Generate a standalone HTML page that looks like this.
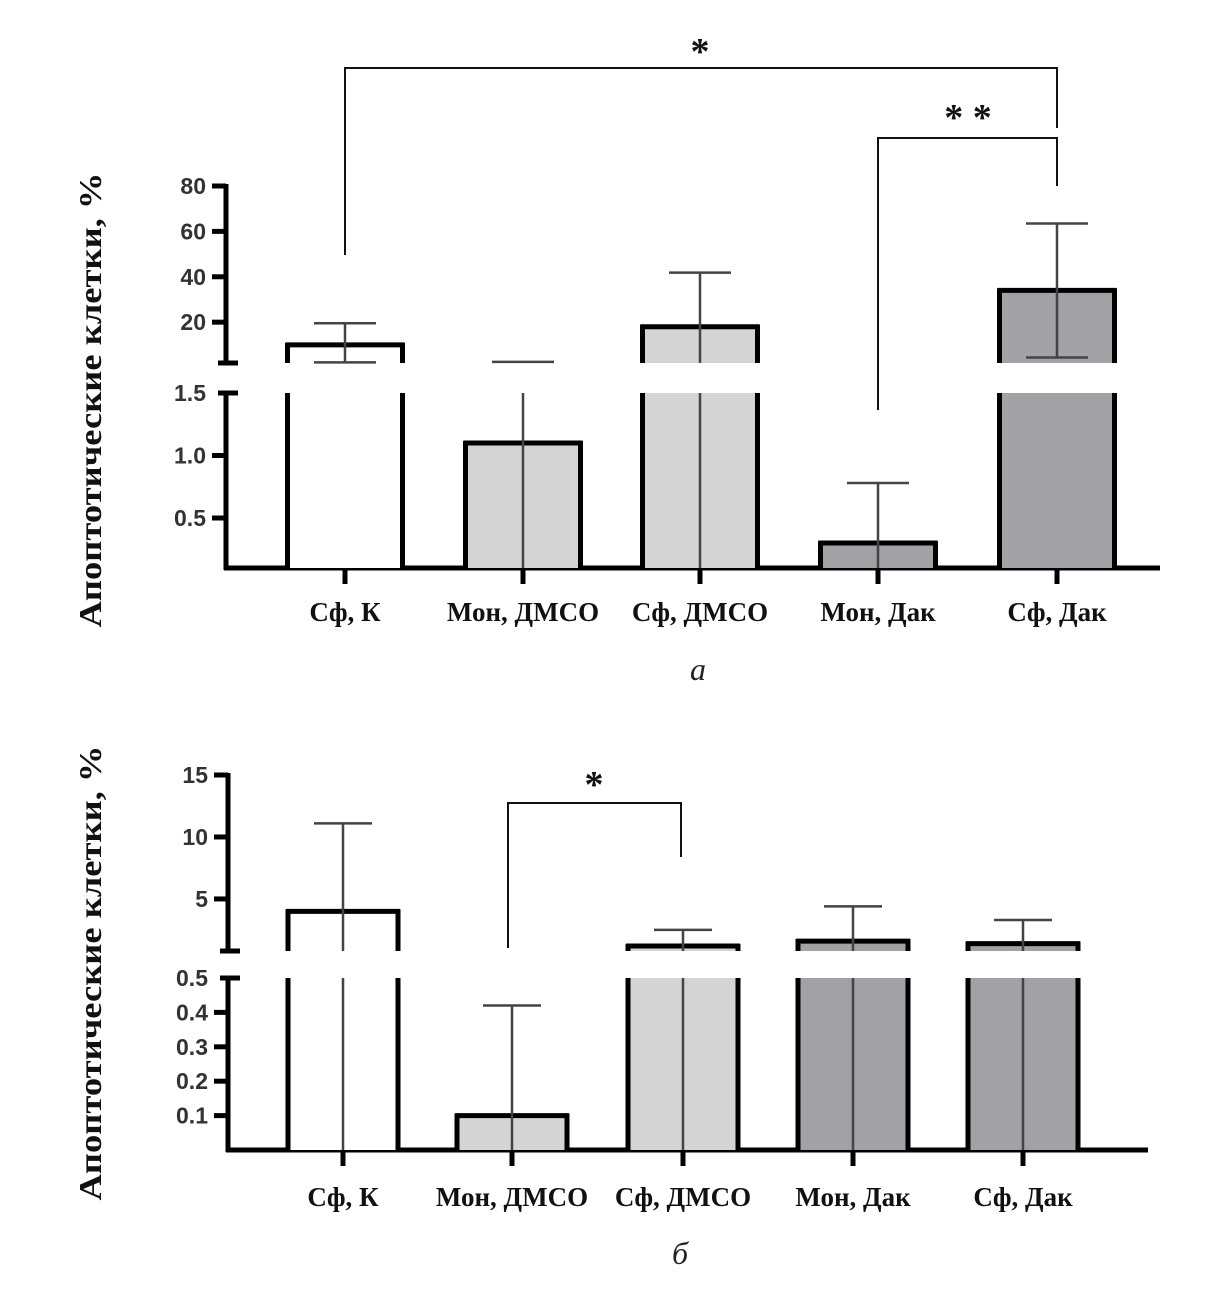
<!DOCTYPE html>
<html><head><meta charset="utf-8"><style>
html,body{margin:0;padding:0;background:#fff;}
svg{display:block;}
text{font-family:"Liberation Serif","DejaVu Serif",serif;}
.tk{font-family:"Liberation Sans","DejaVu Sans",sans-serif;font-size:23px;font-weight:bold;fill:#333;}
.cat{font-weight:bold;font-size:27px;fill:#111;}
</style></head><body>
<svg id="chart" width="1224" height="1293" viewBox="0 0 1224 1293" xmlns="http://www.w3.org/2000/svg"></svg>
<script>
// ---- data: panel a ----
const categoriesA = ["Сф, К", "Мон, ДМСО", "Сф, ДМСО", "Мон, Дак", "Сф, Дак"];
const meansA = [10, 1.1, 18, 0.3, 34];
const errUpA = [19.5, 2.5, 41.8, 0.78, 63.5];
const errLowA = [2.3, null, null, null, 4.4];
const upperTicksA = [20, 40, 60, 80];
const lowerTicksA = [0.5, 1.0, 1.5];
const lowerTickLabelsA = ["0.5", "1.0", "1.5"];
// ---- data: panel б ----
const categoriesB = ["Сф, К", "Мон, ДМСО", "Сф, ДМСО", "Мон, Дак", "Сф, Дак"];
const meansB = [4.0, 0.1, 1.2, 1.6, 1.4];
const errUpB = [11.1, 0.42, 2.5, 4.4, 3.3];
const errLowB = [null, null, null, null, null];
const upperTicksB = [5, 10, 15];
const lowerTicksB = [0.1, 0.2, 0.3, 0.4, 0.5];
const lowerTickLabelsB = ["0.1", "0.2", "0.3", "0.4", "0.5"];
const fills = ["#ffffff", "#d4d4d4", "#d4d4d4", "#a2a2a6", "#a2a2a6"];

const NS = "http://www.w3.org/2000/svg";
const svg = document.getElementById("chart");
function mk(tag, attrs, parent, name, inter) {
  const e = document.createElementNS(NS, tag);
  for (const k in attrs) e.setAttribute(k, attrs[k]);
  
  
  (parent || svg).appendChild(e);
  return e;
}
function line(x1, y1, x2, y2, w, c, name, p) {
  return mk("line", {x1, y1, x2, y2, stroke: c, "stroke-width": w}, p, name, false);
}

function panel(cfg) {
  const g = mk("g", {}, svg, cfg.name, false);
  const up = v => cfg.uY1 - (v - cfg.uD0) / (cfg.uD1 - cfg.uD0) * (cfg.uY1 - cfg.uY0);
  const lo = v => cfg.lY1 - (v - cfg.lD0) / (cfg.lD1 - cfg.lD0) * (cfg.lY1 - cfg.lY0);
  const ax = cfg.axisX;
  line(ax, cfg.uY0 - 2, ax, cfg.uY1, 5, "#000", "y-axis-upper", g);
  line(ax, cfg.lY0, ax, cfg.lY1 + 2, 5, "#000", "y-axis-lower", g);
  line(ax - 8, cfg.uY1, ax + 12, cfg.uY1, 5, "#000", "axis-break-top", g);
  line(ax - 8, cfg.lY0, ax + 12, cfg.lY0, 5, "#000", "axis-break-bottom", g);
  line(ax - 2, cfg.lY1, cfg.axisEnd, cfg.lY1, 5, "#000", "x-axis", g);
  cfg.uTicks.forEach(t => {
    const y = up(t);
    line(ax - 14, y, ax, y, 5, "#000", "y-tick", g);
    const tx = mk("text", {x: ax - 20, y: y + 8, "text-anchor": "end", class: "tk"}, g, "y-tick-label", false);
    tx.textContent = String(t);
  });
  cfg.lTicks.forEach((t, i) => {
    const y = lo(t);
    if (Math.abs(y - cfg.lY0) > 2) line(ax - 14, y, ax, y, 5, "#000", "y-tick", g);
    const tx = mk("text", {x: ax - 20, y: y + 8, "text-anchor": "end", class: "tk"}, g, "y-tick-label", false);
    tx.textContent = cfg.lLabels[i];
  });
  cfg.cats.forEach((c, i) => {
    const cx = cfg.centers[i], w = cfg.barW, x0 = cx - w / 2, x1 = cx + w / 2;
    const m = cfg.means[i];
    const bg = mk("g", {}, g, "bar-" + (i + 1), false);
    const lt = m >= cfg.lD1 ? cfg.lY0 : lo(m);
    mk("rect", {x: x0, y: lt, width: w, height: cfg.lY1 - lt, fill: fills[i]}, bg, "bar-fill-lower", false);
    line(x0, lt - (m < cfg.lD1 ? 2 : 0), x0, cfg.lY1, 5, "#000", "bar-edge", bg);
    line(x1, lt - (m < cfg.lD1 ? 2 : 0), x1, cfg.lY1, 5, "#000", "bar-edge", bg);
    if (m < cfg.lD1) line(x0 - 2, lt, x1 + 2, lt, 5, "#000", "bar-top", bg);
    if (m > cfg.uD0) {
      const ut = up(m);
      mk("rect", {x: x0, y: ut, width: w, height: cfg.uY1 - ut, fill: fills[i]}, bg, "bar-fill-upper", false);
      line(x0, ut - 2, x0, cfg.uY1, 5, "#000", "bar-edge", bg);
      line(x1, ut - 2, x1, cfg.uY1, 5, "#000", "bar-edge", bg);
      line(x0 - 2, ut, x1 + 2, ut, 5, "#000", "bar-top", bg);
    }
    const eu = cfg.errUp[i], el = cfg.errLow[i];
    const ec = "#444", cw = cfg.capW / 2;
    const yTopE = eu > cfg.uD0 ? up(eu) : lo(eu);
    if (eu > cfg.uD0) {
      const bottomU = (el != null && el > cfg.uD0) ? up(el) : cfg.uY1;
      line(cx, yTopE, cx, bottomU, 2.5, ec, "error-line", bg);
      if (el != null && el > cfg.uD0) line(cx - cw, up(el), cx + cw, up(el), 2.5, ec, "error-cap-low", bg);
      if (el == null || el <= cfg.uD0) line(cx, cfg.lY0, cx, cfg.lY1, 2.5, ec, "error-line", bg);
    } else {
      line(cx, yTopE, cx, cfg.lY1, 2.5, ec, "error-line", bg);
    }
    line(cx - cw, yTopE, cx + cw, yTopE, 2.5, ec, "error-cap", bg);
    line(cx, cfg.lY1, cx, cfg.lY1 + 16, 5, "#000", "x-tick", g);
    const lab = mk("text", {x: cx, y: cfg.labY, "text-anchor": "middle", class: "cat"}, g, "x-label", false);
    lab.textContent = c;
  });
  const yt = mk("text", {x: 0, y: 0, transform: `translate(${cfg.titleX},${cfg.titleY}) rotate(-90)`, "text-anchor": "middle", "font-weight": "bold", "font-size": "32", textLength: cfg.titleLen, lengthAdjust: "spacingAndGlyphs", fill: "#111"}, g, "y-axis-title", false);
  yt.textContent = "Апоптотические клетки, %";
  cfg.brackets.forEach(b => {
    mk("path", {d: `M${b.x1},${b.y1} V${b.top} H${b.x2} V${b.y2}`, fill: "none", stroke: "#111", "stroke-width": 2}, g, "significance-bracket", false);
    const s = mk("text", {x: b.sx, y: b.sy, "text-anchor": "middle", "font-size": "38", "font-weight": "bold", fill: "#111"}, g, "significance-stars", false);
    s.textContent = b.stars;
  });
  const pl = mk("text", {x: cfg.letterX, y: cfg.letterY, "text-anchor": "middle", "font-style": "italic", "font-size": "32", fill: "#222"}, g, "panel-label", false);
  pl.textContent = cfg.letter;
}

panel({
  name: "panel-a", cats: categoriesA, means: meansA, errUp: errUpA, errLow: errLowA,
  uTicks: upperTicksA, lTicks: lowerTicksA, lLabels: lowerTickLabelsA,
  uD0: 2, uD1: 80, uY0: 186, uY1: 363, lD0: 0.1, lD1: 1.5, lY0: 393, lY1: 568,
  axisX: 226, axisEnd: 1160, centers: [345, 523, 700, 878, 1057], barW: 115, capW: 62,
  labY: 621, titleX: 101, titleY: 400, titleLen: 455,
  brackets: [
    {x1: 345, y1: 255, x2: 1057, y2: 128, top: 68, sx: 700, sy: 64, stars: "*"},
    {x1: 878, y1: 410, x2: 1057, y2: 186, top: 138, sx: 968, sy: 130, stars: "* *"}
  ],
  letter: "а", letterX: 698, letterY: 680
});
panel({
  name: "panel-b", cats: categoriesB, means: meansB, errUp: errUpB, errLow: errLowB,
  uTicks: upperTicksB, lTicks: lowerTicksB, lLabels: lowerTickLabelsB,
  uD0: 0.8, uD1: 15, uY0: 775, uY1: 951, lD0: 0, lD1: 0.5, lY0: 978, lY1: 1150,
  axisX: 228, axisEnd: 1148, centers: [343, 512, 683, 853, 1023], barW: 110, capW: 58,
  labY: 1206, titleX: 101, titleY: 973, titleLen: 455,
  brackets: [
    {x1: 508, y1: 948, x2: 681, y2: 857, top: 803, sx: 594, sy: 797, stars: "*"}
  ],
  letter: "б", letterX: 680, letterY: 1264
});
</script>
</body></html>
